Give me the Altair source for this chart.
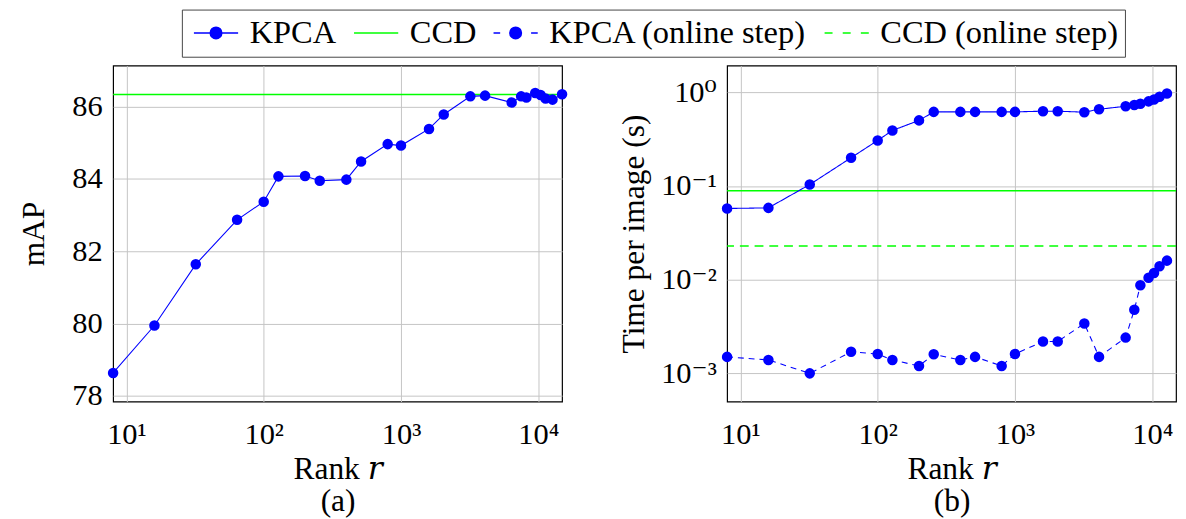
import altair as alt
import pandas as pd

SERIES = ["KPCA", "CCD", "KPCA (online step)", "CCD (online step)"]
COLORS = ["#0000ff", "#00ff00", "#0000ff", "#00ff00"]

# (a) mAP vs rank
r_a = [8, 16, 32, 64, 100, 128, 200, 256, 400, 512, 800, 1000, 1600, 2048,
       3200, 4096, 6400, 7500, 8192, 9500, 10400, 11300, 12700, 14900]
map_kpca = [78.64, 79.95, 81.64, 82.87, 83.37, 84.07, 84.08, 83.95, 83.98, 84.48,
            84.96, 84.92, 85.38, 85.78, 86.28, 86.30, 86.11, 86.28, 86.25, 86.37,
            86.32, 86.22, 86.19, 86.34]
map_ccd = 86.33

# (b) time per image vs rank
r_b = [8, 16, 32, 64, 100, 128, 200, 256, 400, 512, 800, 1000, 1600, 2048,
       3200, 4096, 6400, 7400, 8192, 9400, 10300, 11300, 12800]
time_kpca = [0.0577, 0.0586, 0.104, 0.201, 0.308, 0.393, 0.504, 0.621, 0.621, 0.621,
             0.621, 0.621, 0.632, 0.632, 0.617, 0.663, 0.713, 0.736, 0.760, 0.804,
             0.844, 0.901, 0.976]
time_kpca_online = [0.00150, 0.00139, 0.00100, 0.00170, 0.00161, 0.00139, 0.00120,
                    0.00160, 0.00139, 0.00150, 0.00120, 0.00161, 0.00219, 0.00219,
                    0.00341, 0.00150, 0.00241, 0.00478, 0.00875, 0.01052, 0.01178,
                    0.01396, 0.0160]
time_ccd = 0.0891
time_ccd_online = 0.023

x_ticks = [10, 100, 1000, 10000]
x_tick_labels = ["10¹", "10²", "10³", "10⁴"]
ya_ticks = [78, 80, 82, 84, 86]
yb_ticks = [0.001, 0.01, 0.1, 1]
yb_tick_labels = ["10⁻³", "10⁻²", "10⁻¹", "10⁰"]

# legend symbols (paths in units of half the symbol size, drawn from x=-1 to x=3)
LEG_PATHS = [
    "M-1,0H0.48M1.52,0H3M0.48,0A0.52,0.52,0,1,1,1.52,0A0.52,0.52,0,1,1,0.48,0Z",
    "M-1,0H3",
    "M-1,0H-0.4M2.4,0H3M0.48,0A0.52,0.52,0,1,1,1.52,0A0.52,0.52,0,1,1,0.48,0Z",
    "M-1,0H-0.28M0.64,0H1.36M2.28,0H3",
]

FONT = "Liberation Serif, DejaVu Serif, serif"
FS = 31
TFS = 32
BLUE = "#0000ff"
GREEN = "#00ff00"
GRID = "#c4c4c4"


def label_expr(vals, labels):
    parts = []
    for v, l in zip(vals, labels):
        parts.append(f"abs(datum.value - {v}) < {v * 1e-6} ? '{l}'")
    return " : ".join(parts) + " : ''"


def x_enc(title):
    return alt.X(
        "r:Q",
        scale=alt.Scale(type="log", domain=[8, 14900], nice=False),
        axis=alt.Axis(values=x_ticks, labelExpr=label_expr(x_ticks, x_tick_labels),
                      title=title, grid=True, gridColor=GRID, ticks=False, domain=False,
                      labelPadding=19, titlePadding=4, titleLineHeight=33,
                      labelFlush=False),
    )


legend = alt.Legend(
    title=None, orient="none", legendX=70, legendY=-57, direction="horizontal",
    columns=4, symbolSize=506, symbolStrokeWidth=1.6, symbolOpacity=1,
    labelFont=FONT, labelFontSize=33, labelColor="black", labelOffset=29,
    columnPadding=12, strokeColor="#444444", padding=7, fillColor="white",
    labelLimit=500, rowPadding=0,
)

legend_df = pd.DataFrame({"series": SERIES})
legend_layer = alt.Chart(legend_df).mark_point(opacity=0).encode(
    shape=alt.Shape("series:N", scale=alt.Scale(domain=SERIES, range=LEG_PATHS), legend=legend),
    stroke=alt.Stroke("series:N", scale=alt.Scale(domain=SERIES, range=COLORS), legend=legend),
    fill=alt.Fill("series:N", scale=alt.Scale(domain=SERIES, range=COLORS), legend=legend),
)

# ---- panel (a)
df_a = pd.DataFrame({"r": r_a, "v": map_kpca})
ya = alt.Y("v:Q", scale=alt.Scale(domain=[77.85, 87.13], nice=False, zero=False),
           axis=alt.Axis(values=ya_ticks, title="mAP", grid=True, gridColor=GRID,
                         ticks=False, domain=False, labelPadding=11, titlePadding=22))

ccd_a = alt.Chart(pd.DataFrame({"v": [map_ccd]})).mark_rule(color=GREEN, strokeWidth=1.4).encode(
    y=alt.Y("v:Q"))
line_a = alt.Chart(df_a).mark_line(color=BLUE, strokeWidth=1.1).encode(x=x_enc(["Rank 𝑟", "(a)"]), y=ya)
pts_a = alt.Chart(df_a).mark_circle(color=BLUE, size=115, opacity=1).encode(x="r:Q", y="v:Q")

panel_a = alt.layer(ccd_a, line_a, pts_a, legend_layer).properties(width=457, height=342)

# ---- panel (b)
df_b = pd.DataFrame({"r": r_b + r_b,
                     "v": time_kpca + time_kpca_online,
                     "s": ["KPCA"] * len(r_b) + ["KPCA (online step)"] * len(r_b)})
yb = alt.Y("v:Q", scale=alt.Scale(type="log", domain=[5.0e-4, 1.94], nice=False),
           axis=alt.Axis(values=yb_ticks, labelExpr=label_expr(yb_ticks, yb_tick_labels),
                         title="Time per image (s)", grid=True, gridColor=GRID,
                         ticks=False, domain=False, labelPadding=11, titlePadding=10))
ccd_b_df = pd.DataFrame({"v": [time_ccd, time_ccd_online], "s": ["CCD", "CCD (online step)"]})
dash = alt.StrokeDash("s:N", scale=alt.Scale(domain=SERIES, range=[[1, 0], [1, 0], [6, 5], [9, 6]]),
                      legend=None)
ccd_b = alt.Chart(ccd_b_df).mark_rule(color=GREEN, strokeWidth=1.5).encode(y=alt.Y("v:Q"), strokeDash=dash)
line_b = alt.Chart(df_b).mark_line(color=BLUE, strokeWidth=1.1).encode(
    x=x_enc(["Rank 𝑟", "(b)"]), y=yb, strokeDash=dash, detail="s:N")
pts_b = alt.Chart(df_b).mark_circle(color=BLUE, size=115, opacity=1).encode(x="r:Q", y="v:Q")

panel_b = alt.layer(ccd_b, line_b, pts_b).properties(width=457, height=342)

chart = alt.hconcat(panel_a, panel_b, spacing=50).resolve_scale(
    x="independent", y="independent", strokeDash="independent"
).properties(
    padding={"left": 9, "top": -4, "right": 0, "bottom": 0}
).configure_view(stroke="black", strokeWidth=1.2).configure_axis(
    labelFont=FONT, labelFontSize=FS, labelColor="black", titleFont=FONT,
    titleFontSize=TFS, titleFontWeight="normal", titleColor="black",
)

chart.save("out.html", embed_options={"renderer": "svg", "actions": False})
